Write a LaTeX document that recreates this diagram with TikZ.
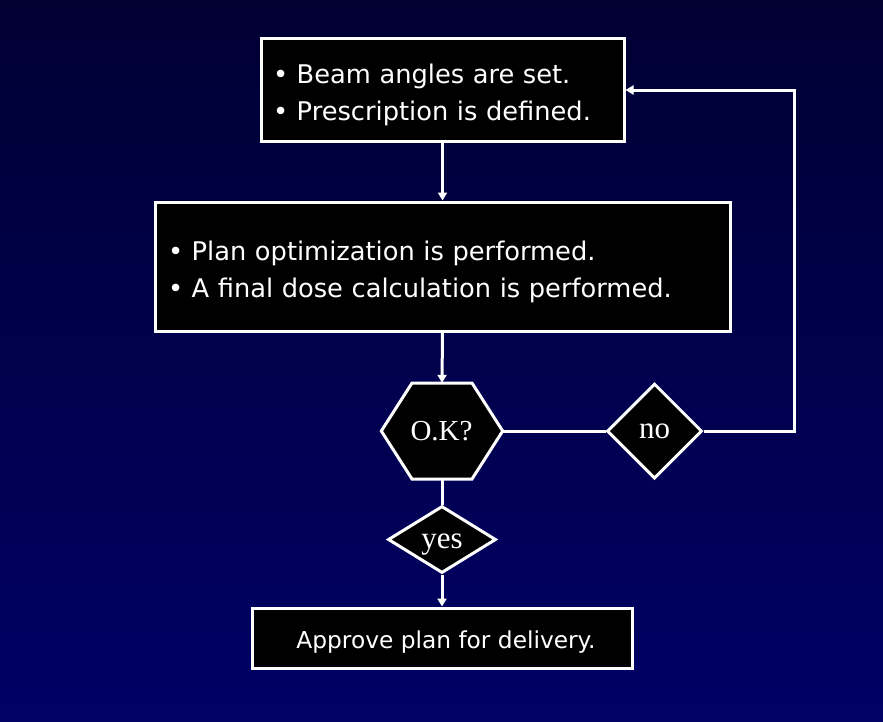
\documentclass[tikz,border=0pt]{standalone}
\usepackage{fontspec}
\setmainfont{Liberation Serif}
\newfontfamily\dejavu{DejaVu Sans}
\usetikzlibrary{shapes.geometric,arrows.meta}
\definecolor{bgtop}{HTML}{000033}
\definecolor{bgbot}{HTML}{000066}
\tikzset{
  edge/.style={draw=white, line width=3pt},
  arr/.style={edge, -{Triangle[length=8pt,width=9pt]}},
  textbox/.style={draw=white, line width=3pt, fill=black, text=white, inner sep=0pt,
    font=\dejavu\fontsize{25.7}{37}\selectfont, align=left},
  decide/.style={diamond, draw=white, line width=3pt, fill=black, text=white, inner sep=0pt,
    font=\fontsize{31}{34}\selectfont},
}
\begin{document}
\begin{tikzpicture}[x=1pt,y=-1pt]
\shade[top color=bgtop, bottom color=bgbot] (0,0) rectangle (883,721);
\useasboundingbox (0,0) rectangle (883,721);

\node[textbox, minimum width=363pt, minimum height=103pt, text width=339pt] (b1) at (442.5,89.5)
  {\rule{0pt}{30pt}• Beam angles are set.\\• Prescription is defined.};
\node[textbox, minimum width=575pt, minimum height=129pt, text width=549pt] (b2) at (442.5,266.5)
  {\rule{0pt}{30pt}• Plan optimization is performed.\\• A final dose calculation is performed.};

% hexagon
\node[minimum width=121pt, minimum height=96pt, inner sep=0pt] (ok) at (442,431) {};
\coordinate (hA) at (412,383);
\coordinate (hB) at (472,383);
\coordinate (hC) at (412,479);
\coordinate (hD) at (472,479);
\draw[line width=3pt, draw=white, fill=black, line join=miter]
  (ok.west) -- (hA) -- (hB) -- (ok.east) -- (hD) -- (hC) -- cycle;
\node[text=white, font=\fontsize{29}{32}\selectfont, inner sep=0pt] (oktext) at (441.5,431.5) {O.K?};

\node[decide, minimum width=95pt, minimum height=95pt] (no) at (654.5,431) {no};
\node[decide, aspect=1.6, minimum width=108pt, minimum height=67pt] (yes) at (442,539.5) {\rule{0pt}{25pt}yes};

\node[textbox, minimum width=380pt, minimum height=60pt, align=center,
  font=\dejavu\fontsize{23.3}{28}\selectfont] (b3) at (442,638)
  {\rule{0pt}{26pt}\hspace*{8pt}Approve plan for delivery.};

\coordinate (c1) at (794,431);
\coordinate (c2) at (794,90);

\draw[arr] (b1.south) -- (b2.north);
\draw[arr] (b2.south) -- (ok.north);
\draw[edge] (ok.south) -- (yes.north);
\draw[arr] (yes.south) -- (b3.north);
\draw[edge] (ok.east) -- (no.west);
\draw[arr] (no.east) -- (c1) -- (c2) -- (b1.east |- c2);
\end{tikzpicture}
\end{document}
